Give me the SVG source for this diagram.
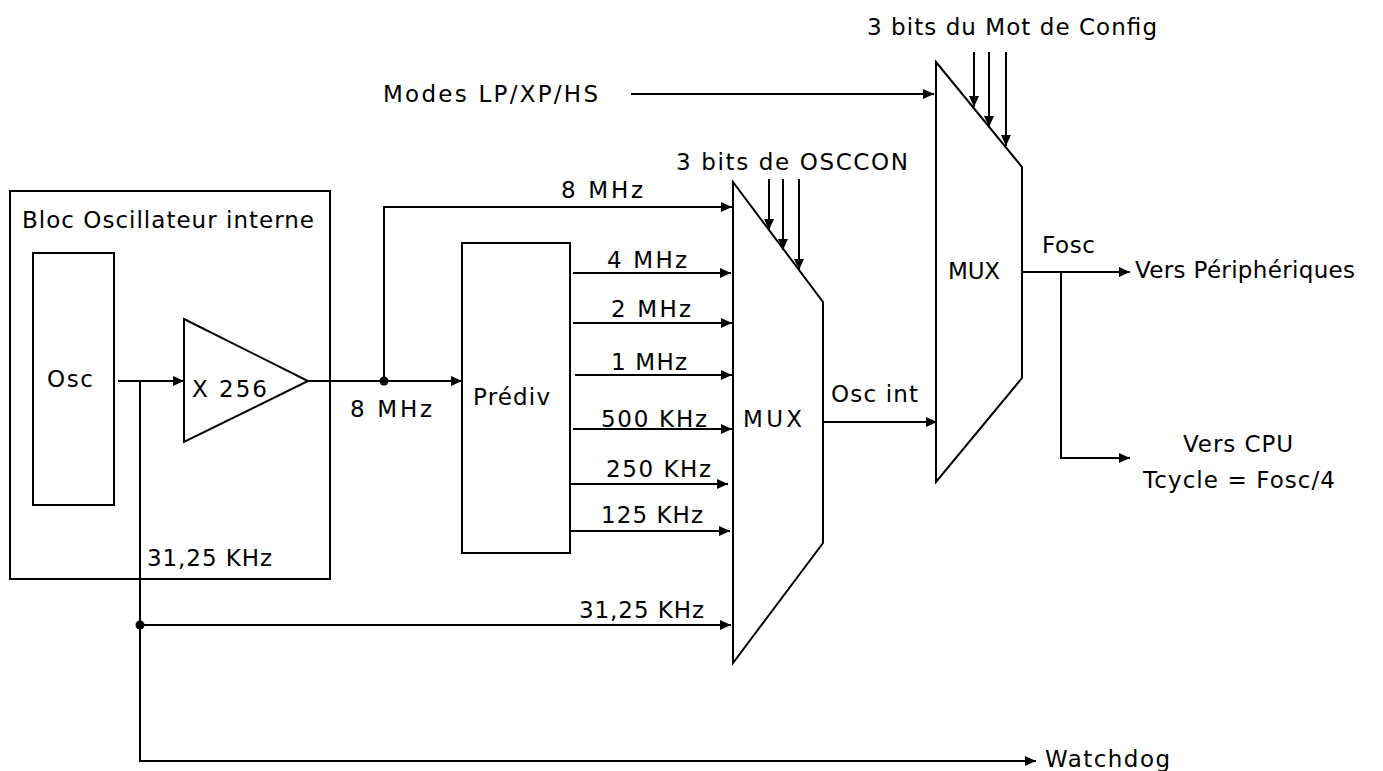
<svg xmlns="http://www.w3.org/2000/svg" width="1383" height="771" viewBox="0 0 1383 771">
<style>
.s{fill:none;stroke:#000;stroke-width:2}
.c{fill:none;stroke:#000;stroke-width:2;marker-end:url(#ah)}
text{font-family:"DejaVu Sans","Liberation Sans",sans-serif;font-size:23px;fill:#000}
</style>
<defs>
<marker id="ah" markerUnits="userSpaceOnUse" markerWidth="12" markerHeight="10" refX="11" refY="5" orient="auto">
<path d="M0,0 L11,5 L0,10 z" fill="#000"/>
</marker>
</defs>
<rect width="1383" height="771" fill="#fff"/>

<g id="bloc">
<rect class="s" x="10" y="191" width="320" height="388"/>
<text x="22" y="228" textLength="292">Bloc Oscillateur interne</text>
</g>
<g id="osc">
<rect class="s" x="33" y="253" width="81" height="252"/>
<text x="47" y="387" textLength="46">Osc</text>
</g>
<g id="amp">
<polygon class="s" points="184,319 308,381 184,442"/>
<text x="192" y="397" textLength="75">X 256</text>
</g>
<g id="prediv">
<rect class="s" x="462" y="243" width="108" height="310"/>
<text x="473" y="405" textLength="77">Prédiv</text>
</g>
<g id="mux1">
<polygon class="s" points="733,182 823,302 823,543 733,663"/>
<text x="743" y="427" textLength="59">MUX</text>
</g>
<g id="mux2">
<polygon class="s" points="936,62 1022,167 1022,378 936,482"/>
<text x="948" y="279" textLength="52">MUX</text>
</g>

<g id="connectors">
<line class="c" x1="118" y1="381" x2="184" y2="381"/>
<polyline class="c" points="140,381 140,761 1036,761"/>
<line class="c" x1="140" y1="625" x2="731" y2="625"/>
<circle cx="140" cy="625" r="4.5" fill="#000"/>
<line class="c" x1="308" y1="381" x2="462" y2="381"/>
<circle cx="384" cy="381" r="4.5" fill="#000"/>
<polyline class="c" points="384,381 384,207 732,207"/>
<line class="c" x1="573" y1="273" x2="731" y2="273"/>
<line class="c" x1="573" y1="323" x2="732" y2="323"/>
<line class="c" x1="575" y1="375" x2="732" y2="375"/>
<line class="c" x1="573" y1="429" x2="732" y2="429"/>
<line class="c" x1="570" y1="484" x2="728" y2="484"/>
<line class="c" x1="570" y1="531" x2="730" y2="531"/>
<line class="c" x1="769" y1="179" x2="769" y2="230"/>
<line class="c" x1="783" y1="179" x2="783" y2="250"/>
<line class="c" x1="799" y1="179" x2="799" y2="270"/>
<line class="c" x1="823" y1="422" x2="937" y2="422"/>
<line class="c" x1="631" y1="94" x2="934" y2="94"/>
<line class="c" x1="974" y1="52" x2="974" y2="107"/>
<line class="c" x1="989" y1="52" x2="989" y2="127"/>
<line class="c" x1="1006" y1="52" x2="1006" y2="146"/>
<line class="c" x1="1022" y1="272" x2="1130" y2="272"/>
<polyline class="c" points="1061,272 1061,458 1130,458"/>
</g>

<g id="labels">
<text x="350" y="417" textLength="82">8 MHz</text>
<text x="147" y="566" textLength="125">31,25 KHz</text>
<text x="561" y="198" textLength="82">8 MHz</text>
<text x="607" y="268" textLength="80">4 MHz</text>
<text x="611" y="317" textLength="80">2 MHz</text>
<text x="611" y="370" textLength="76">1 MHz</text>
<text x="601" y="427" textLength="106">500 KHz</text>
<text x="606" y="477" textLength="105">250 KHz</text>
<text x="601" y="523" textLength="102">125 KHz</text>
<text x="579" y="618" textLength="125">31,25 KHz</text>
<text x="676" y="170" textLength="232">3 bits de OSCCON</text>
<text x="831" y="402" textLength="87">Osc int</text>
<text x="383" y="102" textLength="215">Modes LP/XP/HS</text>
<text x="867" y="35" textLength="290">3 bits du Mot de Config</text>
<text x="1042" y="253" textLength="53">Fosc</text>
<text x="1135" y="278" textLength="220">Vers Périphériques</text>
<text x="1183" y="452" textLength="110">Vers CPU</text>
<text x="1143" y="488" textLength="192">Tcycle = Fosc/4</text>
<text x="1045" y="767" textLength="125">Watchdog</text>
</g>
</svg>
